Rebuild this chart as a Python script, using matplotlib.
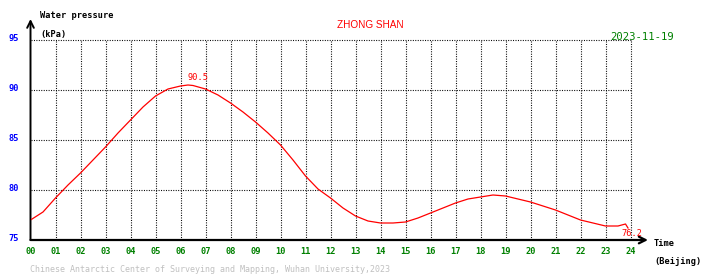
import matplotlib
matplotlib.use("Agg")
import matplotlib.pyplot as plt

# ---- data ----
hours = [0, 0.5, 1, 1.5, 2, 2.5, 3, 3.5, 4, 4.5, 5, 5.5, 6, 6.3, 6.5, 7, 7.5, 8, 8.5,
         9, 9.5, 10, 10.5, 11, 11.5, 12, 12.5, 13, 13.5, 14, 14.5, 15, 15.5, 16,
         16.5, 17, 17.5, 18, 18.5, 19, 19.5, 20, 20.5, 21, 21.5, 22, 22.5, 23,
         23.5, 23.8, 23.9]
pressure = [77.0, 77.8, 79.2, 80.5, 81.7, 83.0, 84.3, 85.7, 87.0, 88.3, 89.4,
            90.1, 90.4, 90.5, 90.45, 90.1, 89.5, 88.7, 87.8, 86.8, 85.7, 84.5, 83.0,
            81.4, 80.1, 79.2, 78.2, 77.4, 76.9, 76.7, 76.7, 76.8, 77.2, 77.7,
            78.2, 78.7, 79.1, 79.3, 79.5, 79.4, 79.1, 78.8, 78.4, 78.0, 77.5,
            77.0, 76.7, 76.4, 76.4, 76.6, 76.2]
x_ticks = list(range(0, 25))
x_labels = [f"{h:02d}" for h in x_ticks]
y_ticks = [75, 80, 85, 90, 95]
title = "ZHONG SHAN"
date = "2023-11-19"
footer = "Chinese Antarctic Center of Surveying and Mapping, Wuhan University,2023"

W, H = 710, 278
fig = plt.figure(figsize=(W / 100, H / 100), dpi=100)
fig.patch.set_facecolor("white")

# axes: hour 0 -> px 30.5, hour 25 -> px 655.5 ; 75 -> px 240, 97 -> px 20
x0, x1 = 30.5, 655.5
ytop, ybot = 20, 240
ax = fig.add_axes([x0 / W, (H - ybot) / H, (x1 - x0) / W, (ybot - ytop) / H])
ax.set_xlim(0, 25)
ax.set_ylim(75, 97)
ax.axis("off")

def px(x, y):
    return x / W, 1 - y / H

mono = "DejaVu Sans Mono"
dots = (0, (0.9, 1.3))

# grid
for h in x_ticks[1:]:
    ax.plot([h, h], [75, 95], color="black", lw=0.8, ls=dots, zorder=1)
for v in y_ticks[1:]:
    ax.plot([0, 24], [v, v], color="black", lw=0.8, ls=dots, zorder=1)

# axes with arrows
ax.annotate("", xy=(0, 97.1), xytext=(0, 75), xycoords="data",
            arrowprops=dict(arrowstyle="->", lw=1.4, color="black",
                            shrinkA=0, shrinkB=0, mutation_scale=12),
            annotation_clip=False)
ax.annotate("", xy=(24.7, 75), xytext=(0, 75), xycoords="data",
            arrowprops=dict(arrowstyle="->", lw=1.6, color="black",
                            shrinkA=0, shrinkB=0, mutation_scale=12),
            annotation_clip=False)

# curve
ax.plot(hours, pressure, color="#ff0000", lw=0.9, zorder=3)

# peak & last labels
imax = max(range(len(pressure)), key=lambda i: pressure[i])
ax.annotate(f"{pressure[imax]:.1f}", xy=(hours[imax], pressure[imax]),
            xytext=(0, 2), textcoords="offset points", color="#ff0000",
            fontsize=6.2, family=mono, ha="left", va="bottom")
ax.annotate(f"{pressure[-1]:.1f}", xy=(hours[-1], pressure[-1]),
            xytext=(-5, -4), textcoords="offset points", color="#ff0000",
            fontsize=6.2, family=mono, ha="left", va="center")

# tick labels
for h, lab in zip(x_ticks, x_labels):
    ax.text(h, 73.9, lab, color="#008000", fontsize=6.2, family=mono,
            ha="center", va="center", fontweight="bold")
for v in y_ticks:
    ax.text(-0.45, v + 0.15, str(v), color="#0000ff", fontsize=6.2, family=mono,
            ha="right", va="center", fontweight="bold")

# texts
fig.text(*px(40, 16), "Water pressure", fontsize=6.2, family=mono,
         ha="left", va="center", fontweight="bold")
fig.text(*px(40, 34), "(kPa)", fontsize=6.2, family=mono,
         ha="left", va="center", fontweight="bold")
fig.text(*px(370, 25), title, fontsize=7.2, family="Liberation Sans",
         color="#ff0000", ha="center", va="center")
fig.text(*px(642, 37), date, fontsize=7.6, family=mono, color="#008000",
         ha="center", va="center")
fig.text(*px(654, 244), "Time", fontsize=6.2, family=mono,
         ha="left", va="center", fontweight="bold")
fig.text(*px(654, 261), "(Beijing)", fontsize=6.2, family=mono,
         ha="left", va="center", fontweight="bold")
fig.text(*px(30, 270), footer, fontsize=6.0, family=mono, color="#c0c0c0",
         ha="left", va="center")

fig.savefig("out.png", dpi=100, facecolor="white")
